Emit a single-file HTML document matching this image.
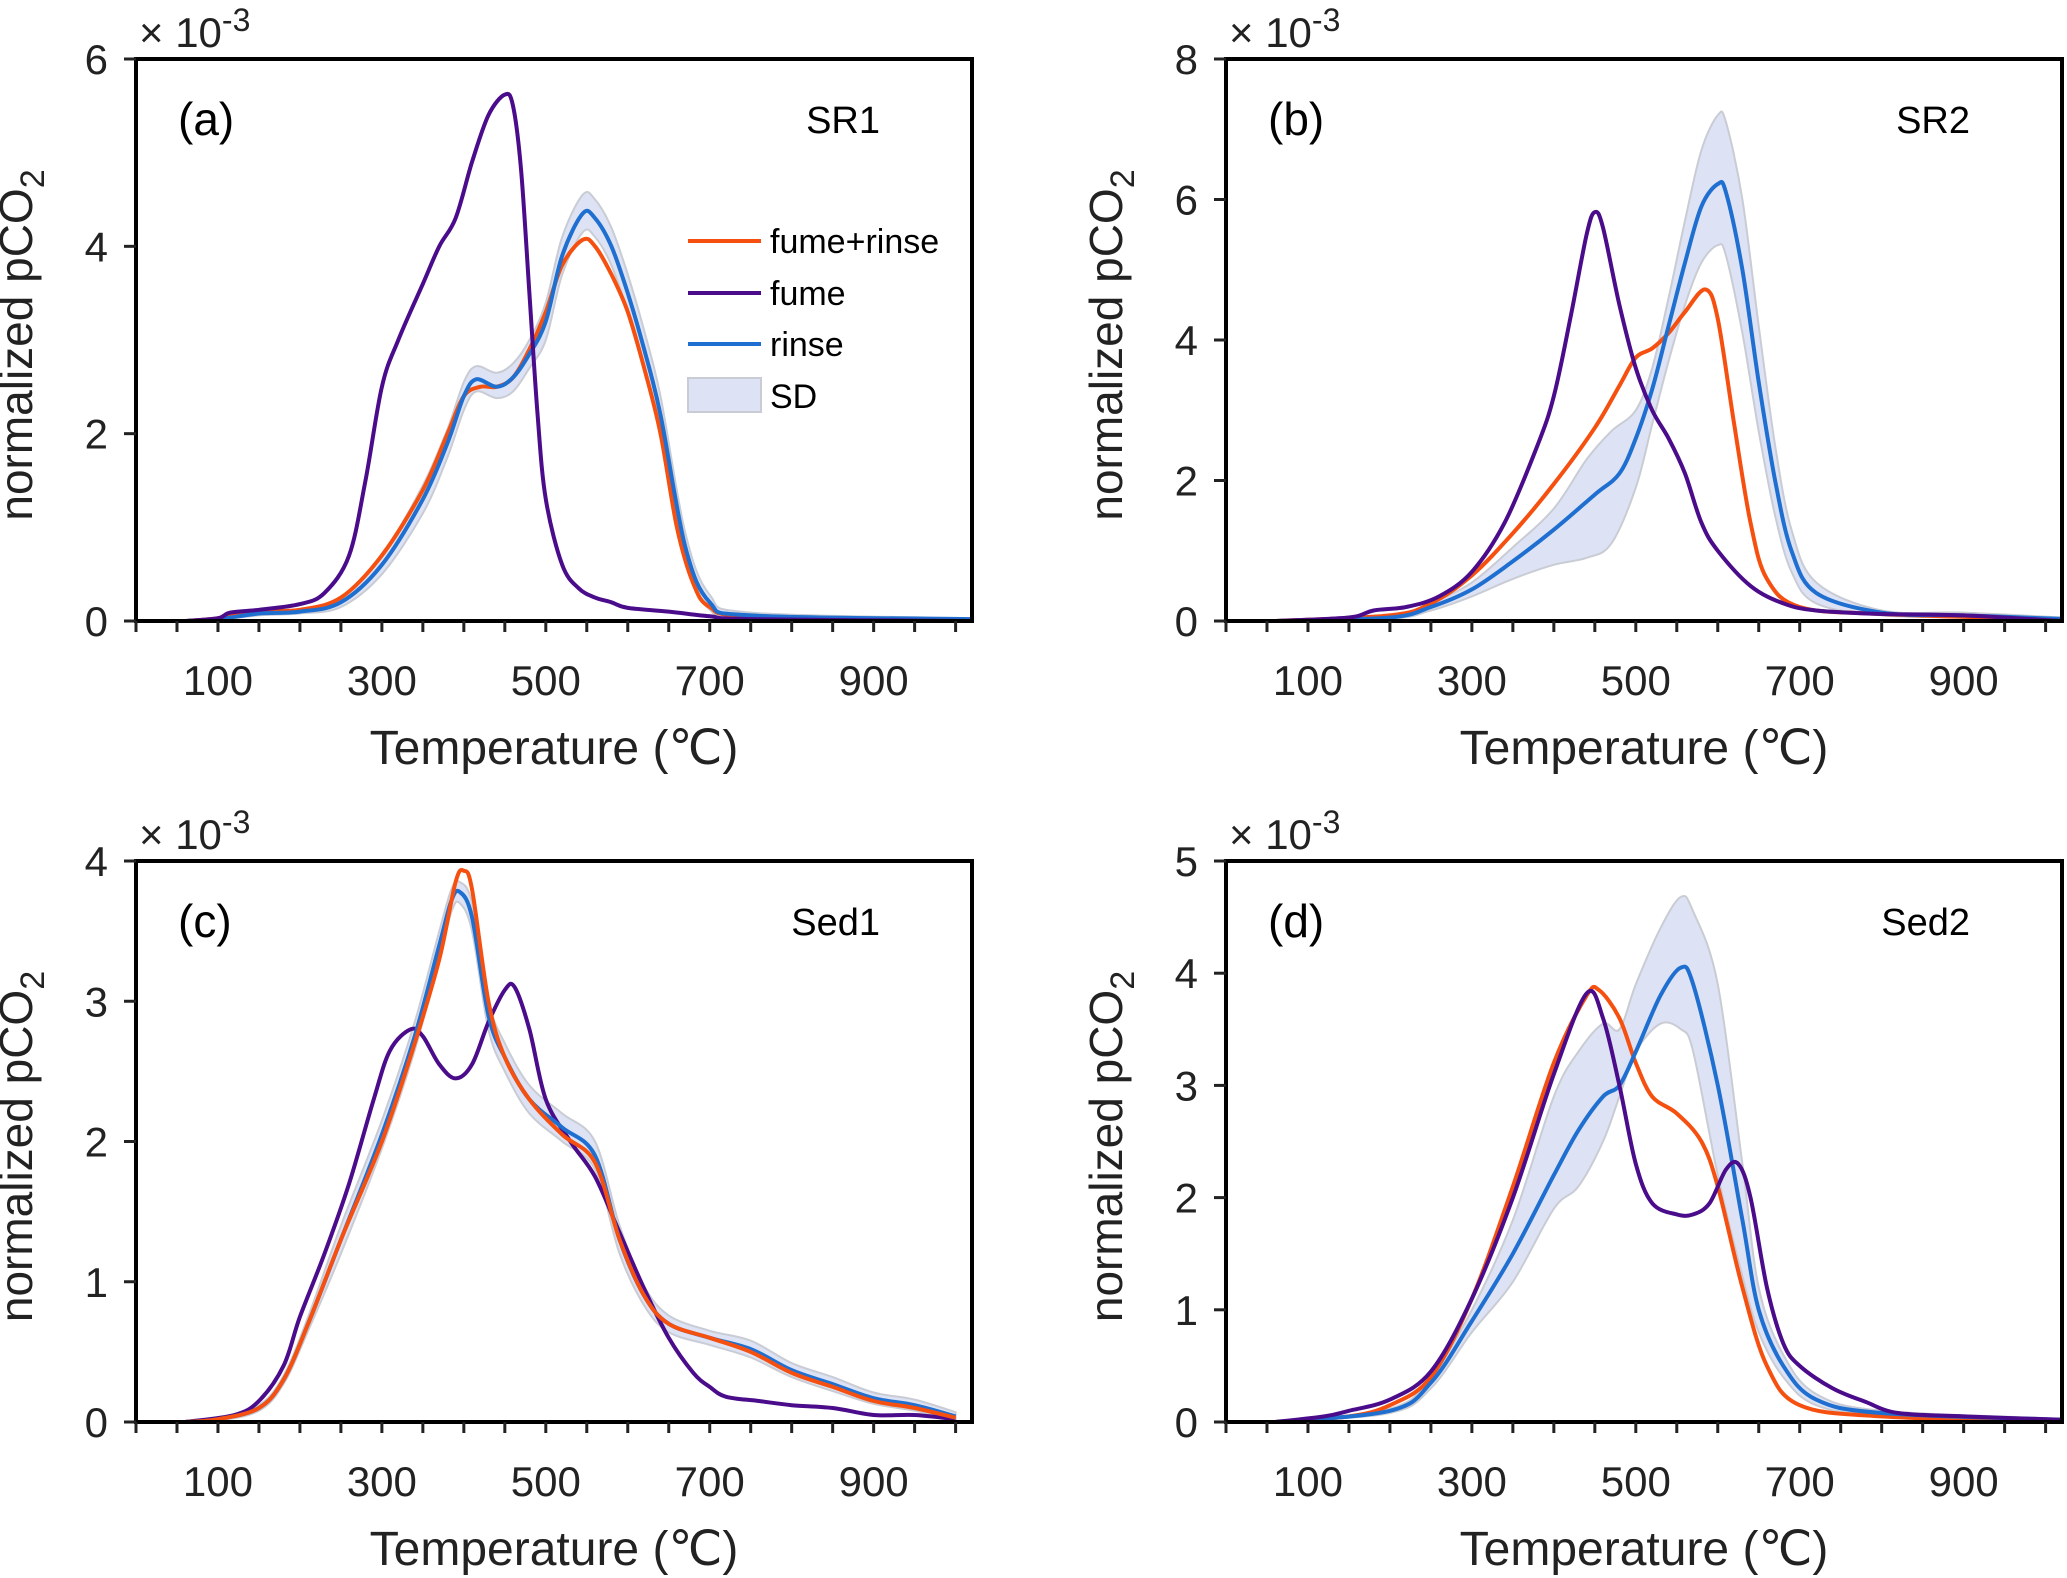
<!DOCTYPE html>
<html><head><meta charset="utf-8"><style>
html,body{margin:0;padding:0;background:#fff;}
svg{display:block;font-family:"Liberation Sans",Arial,sans-serif;}
</style></head><body>
<svg id="fig" width="2067" height="1578" viewBox="0 0 2067 1578" xmlns="http://www.w3.org/2000/svg"></svg>
<script>
// ---- Data (temperature in °C, values ×1e-3) ----
const aFumeX=[60,100,115,150,200,230,260,280,300,320,350,370,390,410,430,450,460,470,480,490,500,520,540,560,580,600,650,700,750,1020];
const aFumeY=[0,0.03,0.09,0.12,0.18,0.3,0.7,1.5,2.5,3.0,3.6,4.0,4.3,4.9,5.4,5.62,5.5,4.8,3.5,2.2,1.3,0.6,0.35,0.25,0.2,0.14,0.1,0.05,0.02,0];
const aMixX=[60,100,150,200,250,300,350,380,400,420,440,460,480,500,520,545,560,580,600,620,640,660,680,700,750,1020];
const aMixY=[0,0.03,0.1,0.12,0.25,0.7,1.4,2.0,2.4,2.5,2.5,2.6,2.9,3.3,3.8,4.07,4.0,3.7,3.3,2.7,2.0,1.0,0.4,0.15,0.05,0];
const aRinX=[60,100,150,200,250,300,350,380,400,415,440,460,480,500,520,545,560,580,600,620,640,670,700,750,1020];
const aRinY=[0,0.02,0.08,0.1,0.2,0.6,1.3,1.9,2.4,2.58,2.5,2.6,2.85,3.2,3.9,4.35,4.3,4.0,3.5,2.9,2.2,0.8,0.2,0.06,0.02];
const aSdX=aRinX;
const aSdHi=[0,0.03,0.1,0.13,0.25,0.7,1.45,2.05,2.55,2.72,2.65,2.75,3.0,3.4,4.1,4.55,4.5,4.2,3.7,3.1,2.4,0.95,0.28,0.09,0.03];
const aSdLo=[0,0.01,0.06,0.08,0.15,0.5,1.15,1.75,2.25,2.45,2.38,2.45,2.7,3.0,3.7,4.15,4.1,3.8,3.3,2.7,2.0,0.65,0.12,0.03,0.01];

const bFumeX=[60,150,180,220,260,300,340,380,400,420,440,450,460,480,500,520,540,560,580,600,640,680,720,800,900,1020];
const bFumeY=[0,0.05,0.15,0.2,0.35,0.7,1.4,2.5,3.2,4.3,5.5,5.82,5.6,4.5,3.6,3.0,2.6,2.1,1.4,1.0,0.5,0.25,0.15,0.1,0.08,0];
const bMixX=[60,200,250,300,350,400,450,480,500,520,540,560,585,600,620,640,660,700,800,1020];
const bMixY=[0,0.08,0.25,0.65,1.25,1.95,2.75,3.35,3.75,3.88,4.1,4.4,4.72,4.3,2.8,1.4,0.6,0.2,0.1,0.02];
const bRinX=[60,200,250,300,350,400,450,480,500,520,540,560,580,600,610,630,650,670,690,720,800,900,1020];
const bRinY=[0,0.05,0.2,0.45,0.85,1.3,1.8,2.1,2.6,3.3,4.2,5.1,5.9,6.22,6.1,5.0,3.4,2.0,1.0,0.4,0.12,0.08,0.03];
const bSdX=[60,200,250,300,350,400,440,470,500,520,540,560,580,600,610,630,650,670,690,720,800,900,1020];
const bSdHi=[0,0.07,0.25,0.55,1.05,1.6,2.3,2.7,3.0,3.6,4.6,5.7,6.7,7.2,7.1,6.0,4.2,2.5,1.3,0.55,0.15,0.12,0.05];
const bSdLo=[0,0.03,0.15,0.35,0.6,0.8,0.9,1.1,1.9,2.8,3.7,4.5,5.1,5.35,5.2,4.1,2.7,1.5,0.7,0.25,0.08,0.05,0.01];

const cFumeX=[60,120,150,180,200,230,260,290,310,335,350,370,390,410,430,450,462,480,500,530,560,590,620,650,680,700,720,760,800,850,900,950,1000];
const cFumeY=[0,0.05,0.15,0.4,0.75,1.2,1.7,2.3,2.65,2.8,2.75,2.55,2.45,2.55,2.85,3.08,3.1,2.8,2.3,2.0,1.75,1.35,0.95,0.6,0.35,0.25,0.18,0.15,0.12,0.1,0.05,0.05,0.02];
const cMixX=[60,100,150,180,210,250,300,340,370,390,400,410,430,450,480,520,560,590,620,650,700,750,800,850,900,950,1000];
const cMixY=[0,0.02,0.1,0.3,0.7,1.3,2.0,2.7,3.3,3.85,3.93,3.8,3.0,2.6,2.3,2.05,1.85,1.3,0.9,0.7,0.6,0.5,0.35,0.25,0.15,0.1,0.03];
const cRinX=[60,100,150,180,210,250,300,340,370,385,395,410,430,450,480,520,560,590,620,650,700,750,800,850,900,950,1000];
const cRinY=[0,0.02,0.1,0.3,0.7,1.3,2.05,2.75,3.4,3.72,3.78,3.6,2.9,2.6,2.3,2.1,1.9,1.3,0.9,0.7,0.6,0.52,0.37,0.27,0.17,0.12,0.04];
const cSdX=cRinX;
const cSdHi=[0,0.03,0.12,0.33,0.75,1.4,2.15,2.85,3.5,3.8,3.85,3.7,3.0,2.7,2.4,2.2,2.0,1.4,0.97,0.76,0.65,0.58,0.42,0.32,0.21,0.16,0.07];
const cSdLo=[0,0.01,0.08,0.27,0.65,1.2,1.95,2.65,3.3,3.64,3.7,3.5,2.8,2.5,2.2,2.0,1.8,1.2,0.83,0.64,0.55,0.46,0.32,0.22,0.13,0.08,0.01];

const dFumeX=[60,120,150,200,250,300,350,400,440,460,480,500,520,550,570,590,610,625,640,660,680,700,740,780,820,900,1020];
const dFumeY=[0,0.05,0.1,0.2,0.45,1.1,2.0,3.1,3.82,3.6,3.0,2.3,1.95,1.85,1.85,1.95,2.25,2.3,2.0,1.2,0.7,0.5,0.3,0.18,0.08,0.05,0.02];
const dMixX=[60,150,200,250,300,350,400,440,455,480,500,520,550,580,600,630,660,700,800,1020];
const dMixY=[0,0.05,0.15,0.4,1.1,2.1,3.2,3.8,3.85,3.6,3.2,2.9,2.75,2.5,2.1,1.2,0.5,0.15,0.05,0];
const dRinX=[60,200,250,300,350,400,430,460,480,500,530,555,570,600,630,650,680,720,800,1020];
const dRinY=[0,0.1,0.35,0.9,1.5,2.2,2.6,2.9,3.0,3.3,3.8,4.05,3.9,3.0,1.8,1.0,0.5,0.2,0.08,0.02];
const dSdX=dRinX;
const dSdHi=[0,0.12,0.4,1.0,1.8,2.9,3.3,3.55,3.5,3.9,4.4,4.68,4.55,3.9,2.3,1.2,0.6,0.25,0.1,0.03];
const dSdLo=[0,0.08,0.3,0.8,1.25,1.9,2.1,2.5,2.9,3.3,3.55,3.5,3.3,2.2,1.3,0.8,0.4,0.15,0.06,0.01];

const xTicks=[100,300,500,700,900];

const panels=[
 {id:'a',name:'SR1',x0:136,x1:972,y0:59,y1:621,ymax:6,yticks:[0,2,4,6],fx:aFumeX,fy:aFumeY,mx:aMixX,my:aMixY,rx:aRinX,ry:aRinY,sx:aSdX,hi:aSdHi,lo:aSdLo,legend:true},
 {id:'b',name:'SR2',x0:1226,x1:2062,y0:59,y1:621,ymax:8,yticks:[0,2,4,6,8],fx:bFumeX,fy:bFumeY,mx:bMixX,my:bMixY,rx:bRinX,ry:bRinY,sx:bSdX,hi:bSdHi,lo:bSdLo},
 {id:'c',name:'Sed1',x0:136,x1:972,y0:861,y1:1422,ymax:4,yticks:[0,1,2,3,4],fx:cFumeX,fy:cFumeY,mx:cMixX,my:cMixY,rx:cRinX,ry:cRinY,sx:cSdX,hi:cSdHi,lo:cSdLo},
 {id:'d',name:'Sed2',x0:1226,x1:2062,y0:861,y1:1422,ymax:5,yticks:[0,1,2,3,4,5],fx:dFumeX,fy:dFumeY,mx:dMixX,my:dMixY,rx:dRinX,ry:dRinY,sx:dSdX,hi:dSdHi,lo:dSdLo}
];
const NS='http://www.w3.org/2000/svg';
const svg=document.getElementById('fig');
function mk(tag,attrs,parent){const e=document.createElementNS(NS,tag);for(const k in attrs)e.setAttribute(k,attrs[k]);(parent||svg).appendChild(e);return e;}
function spline(pts){
  let d='M'+pts[0][0].toFixed(1)+','+pts[0][1].toFixed(1);
  for(let i=0;i<pts.length-1;i++){
    const p0=pts[Math.max(0,i-1)],p1=pts[i],p2=pts[i+1],p3=pts[Math.min(pts.length-1,i+2)];
    const c1=[p1[0]+(p2[0]-p0[0])/6,p1[1]+(p2[1]-p0[1])/6];
    const c2=[p2[0]-(p3[0]-p1[0])/6,p2[1]-(p3[1]-p1[1])/6];
    d+=' C'+c1[0].toFixed(1)+','+c1[1].toFixed(1)+' '+c2[0].toFixed(1)+','+c2[1].toFixed(1)+' '+p2[0].toFixed(1)+','+p2[1].toFixed(1);
  }
  return d;
}
panels.forEach(p=>{
  const g=mk('g',{});
  
  
  const X=v=>p.x0+(v-0)/(1020-0)*(p.x1-p.x0);
  const Y=v=>p.y1-v/p.ymax*(p.y1-p.y0);
  const clipId='clip'+p.id;
  const cp=mk('clipPath',{id:clipId},g);mk('rect',{x:p.x0,y:p.y0,width:p.x1-p.x0,height:p.y1-p.y0},cp);
  const pl=mk('g',{'clip-path':'url(#'+clipId+')'},g);
  const up=p.sx.map((x,i)=>[X(x),Y(p.hi[i])]);
  const lo=p.sx.map((x,i)=>[X(x),Y(p.lo[i])]).reverse();
  const band=mk('path',{d:spline(up)+' L'+spline(lo).slice(1)+' Z',fill:'#dde3f4',stroke:'#c9ccd4','stroke-width':2},pl);
  
  
  const series=[['fume-rinse',p.mx,p.my,'#f5500f'],['rinse',p.rx,p.ry,'#1f6fd1'],['fume',p.fx,p.fy,'#4a0c8a']];
  if(p.id==='c'){series.reverse();}
  series.forEach(s=>{
    const path=mk('path',{d:spline(s[1].map((x,i)=>[X(x),Y(s[2][i])])),fill:'none',stroke:s[3],'stroke-width':4,'stroke-linejoin':'round'},pl);
    
    
  });
  const box=mk('rect',{x:p.x0,y:p.y0,width:p.x1-p.x0,height:p.y1-p.y0,fill:'none',stroke:'#000','stroke-width':4},g);
  
  
  for(let t=0;t<=1000;t+=50){
    mk('line',{x1:X(t),x2:X(t),y1:p.y1,y2:p.y1+11,stroke:'#222','stroke-width':3},g);
  }
  xTicks.forEach(t=>{
    const tx=mk('text',{x:X(t),y:p.y1+74,'font-size':42,'text-anchor':'middle',fill:'#222'},g);
    tx.textContent=t;
    
    
  });
  p.yticks.forEach(t=>{
    mk('line',{x1:p.x0-12,x2:p.x0,y1:Y(t),y2:Y(t),stroke:'#222','stroke-width':3},g);
    const ty=mk('text',{x:p.x0-28,y:Y(t)+15,'font-size':42,'text-anchor':'end',fill:'#222'},g);
    ty.textContent=t;
    
    
  });
  const ex=mk('text',{x:p.x0+3,y:p.y0-12,'font-size':42,fill:'#222'},g);
  ex.innerHTML='× 10<tspan dy="-16" font-size="32">-3</tspan>';
  
  
  const xl=mk('text',{x:(p.x0+p.x1)/2,y:p.y1+143,'font-size':48,'text-anchor':'middle',fill:'#222'},g);
  xl.textContent='Temperature (℃)';
  
  
  const ycx=p.x0-104, ycy=(p.y0+p.y1)/2+5;
  const yl=mk('text',{x:ycx,y:ycy,'font-size':46,'text-anchor':'middle',fill:'#222',transform:'rotate(-90 '+ycx+' '+ycy+')'},g);
  yl.innerHTML='normalized pCO<tspan dy="12" font-size="34">2</tspan>';
  
  
  const pla=mk('text',{x:p.x0+42,y:p.y0+76,'font-size':46,fill:'#000'},g);
  pla.textContent='('+p.id+')';
  
  
  const nm=mk('text',{x:p.x1-92,y:p.y0+74,'font-size':38,'text-anchor':'end',fill:'#000'},g);
  nm.textContent=p.name;
  
  
  if(p.legend){
    const lg=mk('g',{},g);
    
    
    const items=[['fume+rinse','#f5500f',241],['fume','#4a0c8a',293],['rinse','#1f6fd1',344]];
    items.forEach(it=>{
      const e=mk('g',{},lg);
      
      
      mk('line',{x1:688,x2:761,y1:it[2],y2:it[2],stroke:it[1],'stroke-width':4},e);
      const t=mk('text',{x:770,y:it[2]+12,'font-size':34,fill:'#000'},e);t.textContent=it[0];
    });
    const e=mk('g',{},lg);
    
    
    mk('rect',{x:688,y:378,width:73,height:34,fill:'#dde3f4',stroke:'#c9ccd4','stroke-width':2},e);
    const t=mk('text',{x:770,y:408,'font-size':34,fill:'#000'},e);t.textContent='SD';
  }
});
</script>
</body></html>
